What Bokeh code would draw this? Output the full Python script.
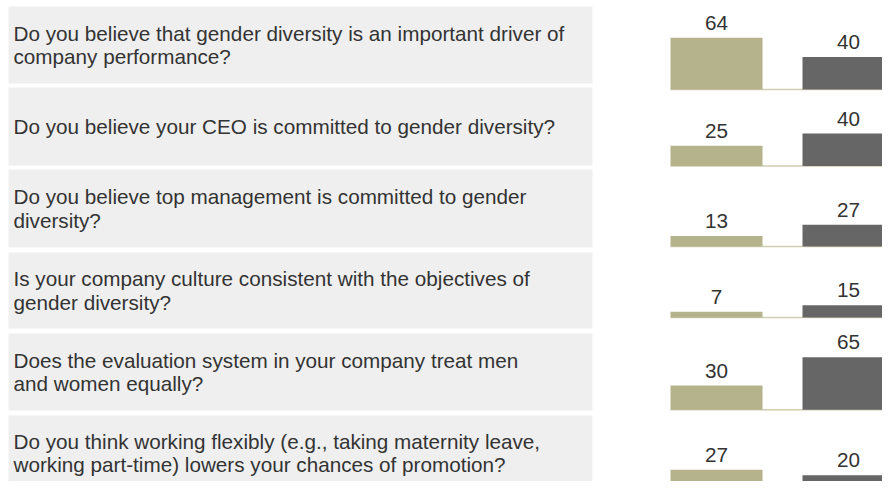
from bokeh.plotting import figure
from bokeh.models import Range1d, ColumnDataSource
from bokeh.embed import file_html
from bokeh.resources import INLINE
from bokeh.core.properties import value

# ---- data ----
questions = [
    "Do you believe that gender diversity is an important driver of\ncompany performance?",
    "Do you believe your CEO is committed to gender diversity?",
    "Do you believe top management is committed to gender\ndiversity?",
    "Is your company culture consistent with the objectives of\ngender diversity?",
    "Does the evaluation system in your company treat men\nand women equally?",
    "Do you think working flexibly (e.g., taking maternity leave,\nworking part-time) lowers your chances of promotion?",
]
series_a = [64, 25, 13, 7, 30, 27]   # olive bars
series_b = [40, 40, 27, 15, 65, 20]  # dark bars

# ---- layout (figure pixels) ----
W, H = 882, 481
PX_PER_UNIT = 0.81

box_tops_px = [6, 87, 169, 252, 333, 415]
box_bottoms_px = [83, 165, 247, 328, 410, 490]
bar_base_px = [89, 165.5, 246, 317, 409.3, 491]

def u(py):
    return (H - py) / PX_PER_UNIT

box_top = [u(v) for v in box_tops_px]
box_bot = [u(v) for v in box_bottoms_px]
box_mid = [(a + b) / 2 for a, b in zip(box_top, box_bot)]
base = [u(v) for v in bar_base_px]

X_A, X_B, BAR_W = 716, 848, 92
FONT = value("Liberation Sans")

p = figure(width=W, height=H, output_backend="svg", toolbar_location=None,
           x_range=Range1d(0, W),
           y_range=Range1d(0, H / PX_PER_UNIT),
           min_border=0, outline_line_color=None)
p.axis.visible = False
p.grid.visible = False
p.background_fill_color = "white"
p.border_fill_color = "white"

# question boxes
p.quad(left=8, right=592, top=box_top, bottom=box_bot,
       fill_color="#efefef", line_color=None)

p.text(x=[13] * len(questions), y=box_mid, text=questions,
       text_font=FONT, text_font_size="20.7px",
       text_color="#333333", text_align="left", text_baseline="middle",
       text_line_height=1.04)

# baselines
p.segment(x0=[670] * 6, x1=[900] * 6, y0=base, y1=base,
          line_color="#cfcdb2", line_width=1.5)

src = ColumnDataSource(dict(
    base=base,
    a_top=[b + v for b, v in zip(base, series_a)],
    b_top=[b + v for b, v in zip(base, series_b)],
    a_lbl=[str(v) for v in series_a],
    b_lbl=[str(v) for v in series_b],
    xa=[X_A] * 6, xb=[X_B] * 6,
))

p.vbar(x="xa", width=BAR_W, bottom="base", top="a_top", source=src,
       fill_color="#b5b38c", line_color=None)
p.vbar(x="xb", width=BAR_W, bottom="base", top="b_top", source=src,
       fill_color="#666666", line_color=None)

p.text(x="xa", y="a_top", text="a_lbl", source=src,
       text_font=FONT, text_font_size="20.7px",
       text_color="#333333", text_align="center", text_baseline="middle",
       y_offset=-15)
p.text(x="xb", y="b_top", text="b_lbl", source=src,
       text_font=FONT, text_font_size="20.7px",
       text_color="#333333", text_align="center", text_baseline="middle",
       y_offset=-15)

open("out.html", "w").write(file_html(p, INLINE))
